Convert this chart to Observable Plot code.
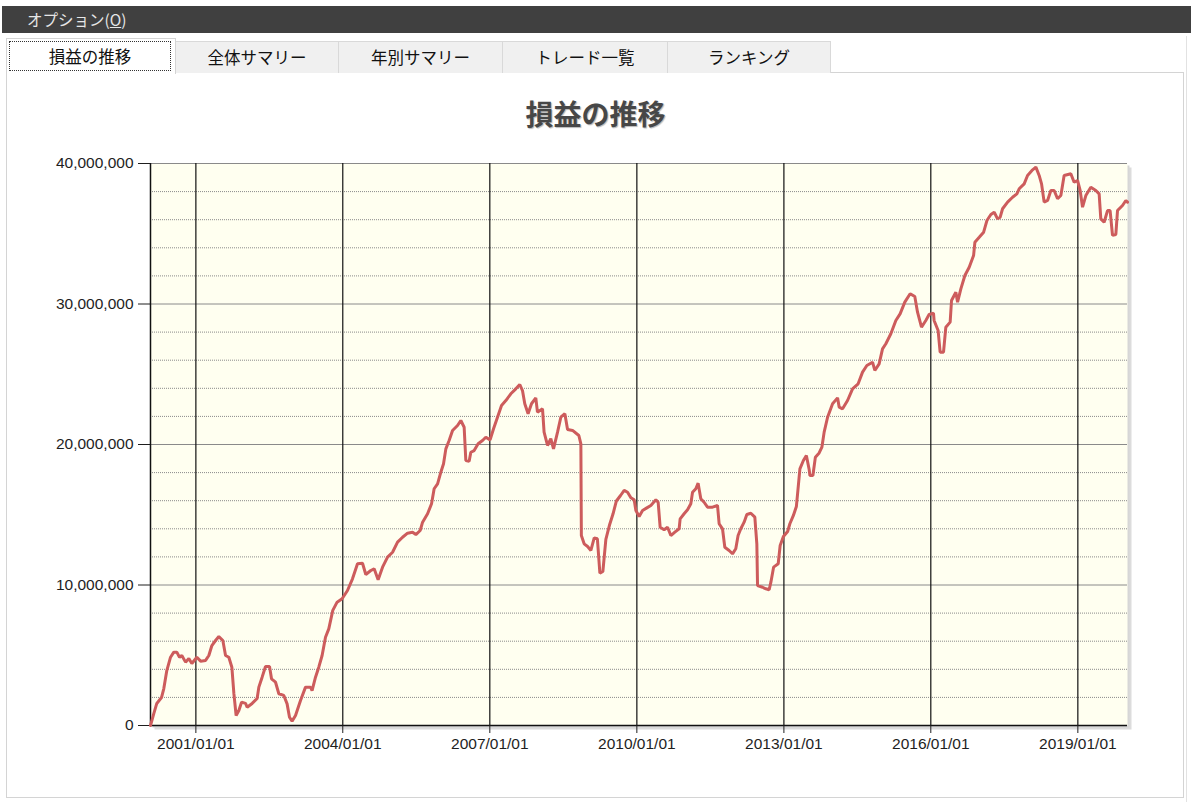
<!DOCTYPE html>
<html>
<head>
<meta charset="utf-8">
<script src="https://cdn.jsdelivr.net/npm/d3@7"></script>
<script src="https://cdn.jsdelivr.net/npm/@observablehq/plot@0.6"></script>
<style>
  html, body { margin: 0; padding: 0; background: #fff; }
  body { width: 1191px; height: 802px; position: relative; overflow: hidden; font-family: "Noto Sans CJK JP", sans-serif; }
  #menubar { position: absolute; left: 2px; top: 6px; width: 1189px; height: 27px; background: #404040; }
  #menubar span { position: absolute; left: 25px; top: 2px; color: #e6e6e6; font-size: 15.5px; line-height: 22px; }
  #panel { position: absolute; left: 6px; top: 72px; width: 1178px; height: 726px; border: 1px solid #d4d4d4; box-sizing: border-box; background: #fff; }
  .tab { position: absolute; top: 41px; height: 32px; background: #f0f0f0; border: 1px solid #d9d9d9; border-bottom: none; box-sizing: border-box; font-size: 16.5px; line-height: 30px; text-align: center; color: #111; }
  #tab0 { left: 6px; top: 38px; width: 170px; height: 36px; background: #fff; border-color: #d4d4d4; z-index: 2; }
  #tab0 span { position: absolute; left: 2px; top: 2px; width: 162px; height: 30px; border: 1px dotted #333; box-sizing: border-box; line-height: 28px; }
  #title { position: absolute; left: 0; width: 1191px; top: 96px; text-align: center; font-size: 28px; font-weight: bold; color: #474747; text-shadow: 1px 1px 1px #b8b8b8; line-height: 34px; }
  #chart { position: absolute; left: 0; top: 140px; }
  #rightedge { position: absolute; left: 1186px; top: 36px; width: 1px; height: 766px; background: #e2e2e2; }
</style>
</head>
<body>
<div id="menubar"><span>オプション(<u>O</u>)</span></div>
<div id="panel"></div>
<div class="tab" id="tab0"><span>損益の推移</span></div>
<div class="tab" style="left:175px;width:164px;">全体サマリー</div>
<div class="tab" style="left:338px;width:165px;">年別サマリー</div>
<div class="tab" style="left:502px;width:166px;">トレード一覧</div>
<div class="tab" style="left:667px;width:164px;">ランキング</div>
<div id="rightedge"></div>
<div id="title">損益の推移</div>
<div id="chart"></div>
<script>
// Decimal-year dates of the cumulative P/L curve
const years = [
2000.076,2000.143,2000.204,2000.300,2000.347,2000.408,2000.484,2000.551,2000.612,2000.667,
2000.714,2000.790,2000.857,2000.918,2001.020,2001.096,2001.198,2001.265,2001.327,2001.402,
2001.469,2001.551,2001.606,2001.673,2001.735,2001.776,2001.822,2001.878,2001.933,2002.014,
2002.047,2002.149,2002.251,2002.286,2002.353,2002.422,2002.504,2002.545,2002.627,2002.694,
2002.796,2002.863,2002.912,2002.965,2003.035,2003.137,2003.239,2003.341,2003.373,2003.443,
2003.510,2003.578,2003.647,2003.714,2003.796,2003.884,2003.986,
2004.096,2004.198,2004.300,2004.402,2004.469,2004.571,2004.639,2004.720,2004.810,2004.912,
2005.014,2005.116,2005.218,2005.320,2005.422,2005.490,2005.578,2005.627,2005.729,2005.810,
2005.863,2005.933,2006.000,2006.055,2006.102,2006.169,2006.239,2006.341,2006.408,2006.476,
2006.510,2006.578,2006.612,2006.680,2006.761,2006.851,2006.918,2007.006,2007.076,2007.157,
2007.239,2007.327,2007.429,2007.531,2007.612,2007.667,2007.714,2007.782,2007.851,2007.939,
2007.973,2008.076,2008.108,2008.178,2008.245,2008.300,2008.382,2008.449,2008.531,2008.586,
2008.688,2008.816,2008.857,2008.867,2008.924,2008.994,2009.061,2009.129,2009.194,2009.245,
2009.306,2009.367,2009.445,2009.514,2009.582,2009.667,2009.741,2009.810,2009.878,2009.945,
2009.980,2010.047,2010.116,2010.204,2010.286,2010.388,2010.435,2010.476,2010.557,2010.627,
2010.694,2010.776,2010.863,2010.884,2010.965,2011.035,2011.102,2011.137,2011.204,2011.251,
2011.306,2011.373,2011.443,2011.545,2011.647,2011.680,2011.749,2011.796,2011.884,2011.953,
2012.020,2012.067,2012.122,2012.190,2012.245,2012.327,2012.408,2012.449,2012.463,2012.565,
2012.633,2012.700,2012.735,2012.790,2012.884,2012.924,2012.990,2013.076,2013.122,2013.194,
2013.255,2013.286,2013.327,2013.398,2013.459,2013.516,2013.531,2013.592,2013.643,2013.720,
2013.776,2013.822,2013.892,2013.994,2014.096,2014.129,2014.198,2014.300,2014.402,2014.516,
2014.606,2014.694,2014.810,2014.857,2014.945,2015.014,2015.082,2015.184,2015.286,2015.373,
2015.469,2015.578,2015.673,2015.729,2015.810,2015.898,2015.965,2016.055,2016.067,2016.149,
2016.190,2016.259,2016.306,2016.394,2016.422,2016.510,2016.545,2016.612,2016.694,2016.782,
2016.871,2016.898,2016.986,2017.076,2017.143,2017.224,2017.292,2017.361,2017.414,2017.463,
2017.565,2017.667,2017.755,2017.802,2017.904,2017.973,2018.076,2018.143,2018.210,2018.259,
2018.312,2018.382,2018.449,2018.516,2018.586,2018.653,2018.720,2018.857,2018.924,2018.994,
2019.047,2019.096,2019.163,2019.265,2019.367,2019.435,2019.469,2019.537,2019.606,2019.659,
2019.708,2019.776,2019.810,2019.912,2019.980,2020.014
];

// Cumulative profit in millions of yen
const profitMillions = [
0,0.85,1.57,1.99,2.63,3.91,4.86,5.22,5.22,4.86,
4.98,4.51,4.77,4.41,4.86,4.58,4.63,4.98,5.69,6.05,
6.33,6.05,4.98,4.86,4.15,2.28,0.71,1.07,1.66,1.57,
1.30,1.57,1.92,2.73,3.44,4.20,4.20,3.32,3.08,2.26,
2.14,1.54,0.59,0.31,0.71,1.78,2.73,2.73,2.49,3.44,
4.15,4.98,6.28,6.88,8.19,8.78,9.02,
9.61,10.44,11.51,11.55,10.75,11.03,11.15,10.37,11.27,11.98,
12.33,13.05,13.40,13.69,13.76,13.59,13.88,14.47,15.07,15.78,
16.85,17.20,18.03,18.63,19.69,20.28,21.00,21.35,21.71,21.23,
18.86,18.81,19.45,19.57,20.05,20.28,20.52,20.33,21.12,21.94,
22.78,23.13,23.61,23.96,24.27,23.84,22.90,22.19,22.90,23.32,
22.30,22.54,20.88,19.93,20.41,19.69,20.88,21.94,22.19,21.07,
21.00,20.64,20.05,13.52,12.93,12.74,12.46,13.35,13.29,10.85,
10.96,13.24,14.31,15.07,15.98,16.37,16.73,16.60,16.21,16.06,
15.30,14.88,15.30,15.49,15.66,16.06,15.89,14.11,13.93,14.11,
13.52,13.76,14.00,14.71,15.07,15.35,15.78,16.60,16.85,17.25,
16.14,15.89,15.54,15.54,15.66,14.36,14.00,12.69,12.46,12.22,
12.58,13.52,14.00,14.47,15.02,15.11,14.83,12.93,9.96,9.84,
9.73,9.66,10.20,11.27,11.51,12.81,13.45,13.81,14.36,14.95,
15.59,16.73,18.27,18.86,19.22,18.22,17.79,17.79,19.10,19.40,
19.81,20.88,21.94,22.90,23.32,22.66,22.54,23.13,23.96,24.32,
25.15,25.62,25.86,25.27,25.74,26.81,27.17,27.88,28.83,29.30,
30.13,30.73,30.53,29.42,28.35,28.83,29.25,29.35,28.83,28.11,
26.57,26.57,28.35,28.71,30.25,30.84,30.13,31.08,32.03,32.62,
33.45,34.40,34.75,35.11,35.94,36.37,36.53,36.06,36.18,36.78,
37.25,37.60,37.84,38.20,38.55,39.15,39.55,39.74,39.15,38.55,
37.25,37.37,38.08,38.08,37.49,37.72,39.15,39.27,38.67,38.79,
38.08,36.89,37.72,38.31,38.08,37.84,36.06,35.82,36.65,36.65,
34.88,34.95,36.65,37.01,37.37,37.25
];

// Axis tick labels
const xTickYears = [2001, 2004, 2007, 2010, 2013, 2016, 2019];
const yMajorTicks = [0, 10000000, 20000000, 30000000, 40000000];
const yMinorStep = 2000000;

function decToDate(y) {
  const yr = Math.floor(y);
  const a = Date.UTC(yr, 0, 1), b = Date.UTC(yr + 1, 0, 1);
  return new Date(a + (y - yr) * (b - a));
}

const n = Math.min(years.length, profitMillions.length);
const data = d3.range(n).map(i => ({ date: decToDate(years[i]), value: profitMillions[i] * 1e6 }));
const xTicks = xTickYears.map(y => new Date(Date.UTC(y, 0, 1)));
const yMinor = d3.range(0, 40000001, yMinorStep).filter(v => !yMajorTicks.includes(v));
const xDomain = [data[0].date, data[n - 1].date];

const chart = Plot.plot({
  width: 1191,
  height: 625,
  marginLeft: 150,
  marginRight: 64,
  marginTop: 23,
  marginBottom: 40,
  style: { background: "transparent", fontFamily: "'Liberation Sans', Arial, sans-serif", fontSize: "15.5px", color: "#1e1e1e", overflow: "visible" },
  x: { type: "utc", domain: xDomain },
  y: { domain: [0, 40000000] },
  marks: [
    Plot.frame({ fill: "#c4c4c4", stroke: "none", dx: 4, dy: 4, fillOpacity: 0.6 }),
    Plot.frame({ fill: "#d6d6d6", stroke: "none", dx: 2, dy: 2 }),
    Plot.frame({ fill: "#fffff0", stroke: "none" }),
    Plot.ruleY(yMinor, { stroke: "#8a8a8a", strokeDasharray: "1,1", strokeWidth: 1 }),
    Plot.ruleY(yMajorTicks, { stroke: "#8a8a8a", strokeWidth: 1 }),
    Plot.ruleX(xTicks, { stroke: "#111", strokeWidth: 1.2 }),
    Plot.ruleX([xDomain[0]], { stroke: "#111", strokeWidth: 1.5 }),
    Plot.ruleY([0], { stroke: "#111", strokeWidth: 1.5 }),
    Plot.axisY({ ticks: yMajorTicks, tickFormat: d3.format(","), tickSize: 12, tickPadding: 5, label: null }),
    Plot.axisX({ ticks: xTicks, tickFormat: d3.utcFormat("%Y/%m/%d"), tickSize: 8, tickPadding: 4, label: null }),
    Plot.line(data, { x: "date", y: "value", stroke: "#cd5c5c", strokeWidth: 3, strokeLinejoin: "miter" })
  ]
});
document.getElementById("chart").appendChild(chart);
</script>
</body>
</html>
